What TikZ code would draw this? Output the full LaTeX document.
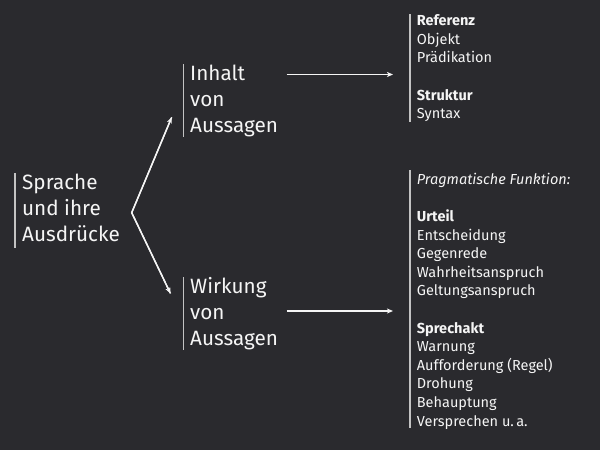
\documentclass[tikz,border=0pt]{standalone}
\usepackage{fontspec}
\setmainfont{Fira Sans}
\usetikzlibrary{arrows.meta}
\definecolor{bg}{RGB}{42,42,46}
\definecolor{fg}{RGB}{245,245,245}
\definecolor{barc}{RGB}{195,195,195}
\begin{document}
\begin{tikzpicture}[x=1pt,y=-1pt,
  big/.style={font=\fontsize{20.7}{26}\selectfont, text=fg, align=left, inner sep=0pt, anchor=base west},
  small/.style={font=\fontsize{14.5}{18.6}\selectfont, text=fg, align=left, inner sep=0pt, anchor=base west},
  bar/.style={draw=barc, line width=1.2pt},
  arr/.style={draw=fg, line width=1.4pt, -{Stealth[length=6pt,width=5pt,inset=1.5pt]}}]
\fill[bg] (0,0) rectangle (600,450);
\useasboundingbox (0,0) rectangle (600,450);
% left (anchor = baseline of last line)
\node[big] (sprache) at (22,241.7) {Sprache\\und ihre\\Ausdrücke};
\draw[bar] (15,173) -- (15,248);
% middle
\node[big] (inhalt) at (190,132.7) {Inhalt\\von\\Aussagen};
\draw[bar] (183.3,64) -- (183.3,137);
\node[big] (wirkung) at (190,345.3) {Wirkung\\von\\Aussagen};
\draw[bar] (183.3,277) -- (183.3,350);
% right
\node[small] (inhaltlist) at (416.7,118.7) {\textbf{Referenz}\\Objekt\\Prädikation\\[18.6pt]\textbf{Struktur}\\Syntax};
\draw[bar] (410,14) -- (410,122);
\node[small] (wirklist) at (416.7,426) {\textit{Pragmatische Funktion:}\\[18.6pt]\textbf{Urteil}\\Entscheidung\\Gegenrede\\Wahrheitsanspruch\\Geltungsanspruch\\[18.6pt]\textbf{Sprechakt}\\Warnung\\Aufforderung (Regel)\\Drohung\\Behauptung\\Versprechen u.\,a.};
\draw[bar] (410,170) -- (410,428);
% connectors
\coordinate (vtx) at (131.7,212.7);
\coordinate (upTip) at (171.7,117.3);
\coordinate (dnTip) at (170.5,293.5);
\coordinate (aStart) at (286.7,74.5);
\coordinate (aEnd) at (393,74.5);
\coordinate (bStart) at (286.7,311);
\coordinate (bEnd) at (393,311);
\draw[draw=fg, line width=1.4pt, line join=miter] (upTip) -- (vtx) -- (dnTip);
\draw[arr] (vtx) -- (upTip);
\draw[arr] (vtx) -- (dnTip);
\draw[arr] (aStart) -- (aEnd);
\draw[arr] (bStart) -- (bEnd);
\end{tikzpicture}
\end{document}
